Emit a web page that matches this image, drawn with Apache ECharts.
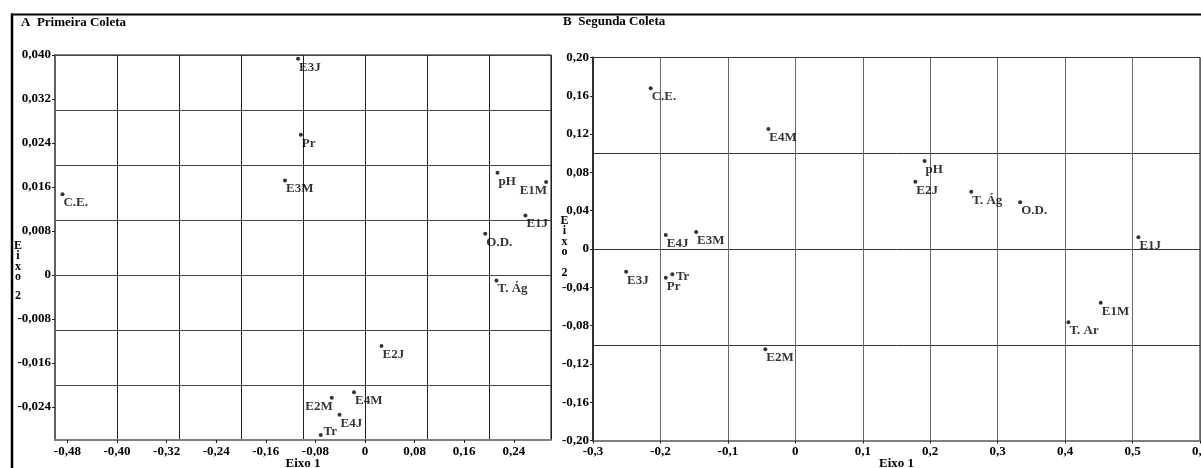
<!DOCTYPE html>
<html><head><meta charset="utf-8">
<script src="https://cdn.jsdelivr.net/npm/echarts@6/dist/echarts.min.js"></script>
<style>html,body{margin:0;padding:0;background:#fff}#c{width:1201px;height:468px}</style>
</head><body><div id="c"></div>
<script>
// ---- Panel A: Primeira Coleta ----
const namesA = ['E3J','Pr','E3M','C.E.','pH','E1M','E1J','O.D.','T. Ág','E2J','E4M','E2M','E4J','Tr'];
const xA = [-0.108,-0.1035,-0.129,-0.488,0.2137,0.2921,0.2587,0.194,0.212,0.0266,-0.0177,-0.0536,-0.0411,-0.0714];
const yA = [0.0393,0.0255,0.0172,0.0147,0.0186,0.0169,0.0108,0.0075,-0.0010,-0.0129,-0.0213,-0.0223,-0.0254,-0.0291];
// ---- Panel B: Segunda Coleta ----
const namesB = ['C.E.','E4M','pH','E2J','T. Ág','O.D.','E1J','E4J','E3M','E3J','Pr','Tr','E1M','T. Ar','E2M'];
const xB = [-0.2145,-0.040,0.1916,0.1779,0.2608,0.3334,0.5087,-0.1921,-0.1471,-0.2509,-0.1921,-0.1823,0.4528,0.4049,-0.0445];
const yB = [0.1678,0.1253,0.0919,0.0703,0.0598,0.0488,0.0122,0.0146,0.0178,-0.0237,-0.0300,-0.0264,-0.0561,-0.0766,-0.1048];
// ---- tick labels ----
const xTicksA = [-0.48,-0.40,-0.32,-0.24,-0.16,-0.08,0,0.08,0.16,0.24];
const yTicksA = [-0.024,-0.016,-0.008,0,0.008,0.016,0.024,0.032,0.040];
const xTicksB = [-0.3,-0.2,-0.1,0,0.1,0.2,0.3,0.4,0.5,0.6];
const yTicksB = [-0.20,-0.16,-0.12,-0.08,-0.04,0,0.04,0.08,0.12,0.16,0.20];

const FONT = "'Liberation Serif','DejaVu Serif',serif";
const fmt = d => v => (Math.abs(v) < 1e-9 ? '0' : v.toFixed(d).replace('.', ','));
const txt = {fontFamily: FONT, fontWeight: 'bold', fontSize: 13, color: '#000'};

// label placement overrides (style, not data)
const leftSideA = ['E1M', 'E2M'];
const sideA = {Tr: {position: [4.7, -1], align: 'left', verticalAlign: 'middle'}};
const sideB = {Tr: {position: [5.5, 4.7], align: 'left', verticalAlign: 'middle'}};

function buildData(names, xs, ys, leftSide, special) {
  return names.map((n, i) => {
    const item = {name: n, value: [xs[i], ys[i]]};
    if (leftSide.indexOf(n) >= 0) item.label = {position: [3, 4], align: 'right', verticalAlign: 'top'};
    if (special[n]) item.label = special[n];
    return item;
  });
}

function labelAxes(gridIndex, min, max, ticks, dec, isX, lineColor) {
  const a = {
    type: 'value', gridIndex, min, max, z: 3,
    axisLine: {show: true, onZero: false, lineStyle: {color: lineColor, width: 2}},
    axisTick: {show: true, customValues: ticks, length: 3, lineStyle: {color: '#222', width: 1}},
    axisLabel: Object.assign({customValues: ticks, formatter: fmt(dec), margin: isX ? 5 : 4, lineHeight: 13,
      hideOverlap: false}, txt),
    splitLine: {show: false}
  };
  if (isX) {
    a.position = 'bottom';
    a.axisLabel.alignMinLabel = 'center';
    a.axisLabel.alignMaxLabel = 'center';
    a.name = 'Eixo 1'; a.nameLocation = 'middle'; a.nameGap = 17; a.nameMoveOverlap = false;
    a.nameTextStyle = Object.assign({verticalAlign: 'top', lineHeight: 13}, txt);
  } else {
    a.position = 'left';
    a.axisLabel.padding = [0, 0, 6, 0];
  }
  return a;
}
function gridAxes(gridIndex, min, max, interval, color) {
  return {
    type: 'value', gridIndex, min, max, interval, z: 1,
    axisLine: {show: false}, axisTick: {show: false}, axisLabel: {show: false},
    splitLine: {show: true, lineStyle: {color, width: 1}}
  };
}

const labelStyle = Object.assign({show: true, formatter: '{b}', position: [3, 4], align: 'left', verticalAlign: 'top', lineHeight: 13}, txt);

const option = {
  animation: false,
  backgroundColor: '#fff',
  grid: [
    {left: 55, top: 55, width: 496, height: 385, outerBoundsMode: 'none', containLabel: false, show: true, borderColor: '#000', borderWidth: 1, backgroundColor: 'transparent'},
    {left: 593, top: 57.5, width: 607, height: 383, outerBoundsMode: 'none', containLabel: false, show: true, borderColor: '#000', borderWidth: 1, backgroundColor: 'transparent'}
  ],
  xAxis: [
    labelAxes(0, -0.5, 0.3, xTicksA, 2, true, '#808080'),
    gridAxes(0, -0.5, 0.3, 0.1, '#222'),
    labelAxes(1, -0.3, 0.6, xTicksB, 1, true, '#808080'),
    gridAxes(1, -0.3, 0.6, 0.1, '#666')
  ],
  yAxis: [
    labelAxes(0, -0.03, 0.04, yTicksA, 3, false, '#606060'),
    gridAxes(0, -0.03, 0.04, 0.01, '#444'),
    labelAxes(1, -0.2, 0.2, yTicksB, 2, false, '#303030'),
    gridAxes(1, -0.2, 0.2, 0.1, '#333')
  ],
  series: [
    {type: 'scatter', xAxisIndex: 0, yAxisIndex: 0, symbol: 'circle', symbolSize: 4, z: 5,
     itemStyle: {color: '#000'}, label: labelStyle,
     data: buildData(namesA, xA, yA, leftSideA, sideA)},
    {type: 'scatter', xAxisIndex: 2, yAxisIndex: 2, symbol: 'circle', symbolSize: 4, z: 5,
     itemStyle: {color: '#000'}, label: labelStyle,
     data: buildData(namesB, xB, yB, [], sideB)}
  ],
  graphic: [
    {type: 'line', shape: {x1: 11, y1: 14.5, x2: 1201, y2: 14.5}, style: {stroke: '#000', lineWidth: 2}},
    {type: 'line', shape: {x1: 12, y1: 13.5, x2: 12, y2: 468}, style: {stroke: '#000', lineWidth: 2.5}},
    {type: 'text', left: 21, top: 16.5, style: {text: 'A  Primeira Coleta', font: "bold 13px " + FONT, fill: '#000'}},
    {type: 'text', left: 563, top: 15.5, style: {text: 'B  Segunda Coleta', font: "bold 13px " + FONT, fill: '#000'}},
    {type: 'text', x: 18, y: 240.5, style: {text: 'E\ni\nx\no', font: "bold 12px " + FONT, fill: '#000', align: 'center', verticalAlign: 'top', lineHeight: 10.5}},
    {type: 'text', x: 18, y: 289.5, style: {text: '2', font: "bold 12px " + FONT, fill: '#000', align: 'center', verticalAlign: 'top'}},
    {type: 'text', x: 564.5, y: 215.5, style: {text: 'E\ni\nx\no', font: "bold 12px " + FONT, fill: '#000', align: 'center', verticalAlign: 'top', lineHeight: 10.5}},
    {type: 'text', x: 564.5, y: 267, style: {text: '2', font: "bold 12px " + FONT, fill: '#000', align: 'center', verticalAlign: 'top'}}
  ]
};
const chart = echarts.init(document.getElementById('c'), null, {renderer: 'canvas'});
chart.setOption(option);
</script>
</body></html>
